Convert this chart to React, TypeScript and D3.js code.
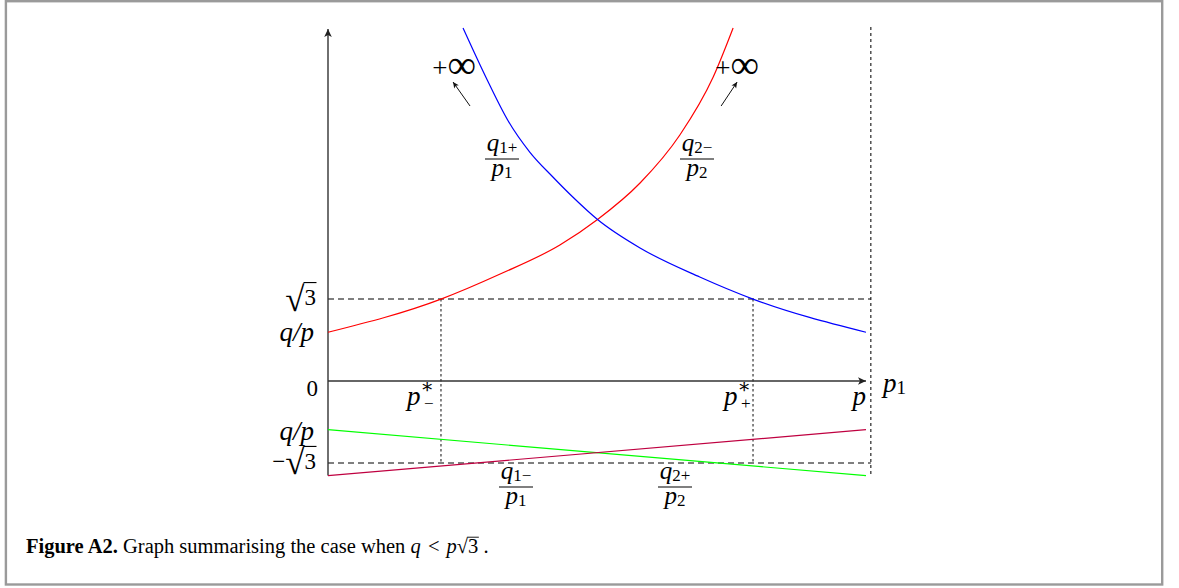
import React, { useLayoutEffect, useRef, useState } from 'react';
import * as d3 from 'd3';

const WIDTH = 1179;
const HEIGHT = 588;

// Abscissa: p1 measured in units of p (0 … p). Ordinate: same units as √3.
const SQRT3 = Math.sqrt(3);
const Q_OVER_P = 1.03;
const LOWER_END = -2;
const Y_TOP = 7.463;
const P_END = 1;
const P_LIMIT_LINE = 1.009;
const P_STAR_MINUS = 0.21;
const P_STAR_PLUS = 0.79;

// q2−/p2 (red): rises from q/p towards +∞
const q2MinusP1 = [0, 0.21, 0.32, 0.431, 0.501, 0.58, 0.654, 0.716, 0.753];
const q2MinusValue = [Q_OVER_P, 1.732, 2.262, 2.875, 3.414, 4.186, 5.201, 6.427, 7.463];

// q1+/p1 (blue): comes down from +∞ to q/p
const q1PlusP1 = [0.251, 0.296, 0.335, 0.375, 0.418, 0.455, 0.501, 0.58, 0.691, 0.79, 1];
const q1PlusValue = [7.463, 6.364, 5.497, 4.841, 4.313, 3.89, 3.414, 2.812, 2.199, 1.732, Q_OVER_P];

// q2+/p2 (green) and q1−/p1 (purple): the two negative branches
const q2PlusP1 = [0, 1];
const q2PlusValue = [-Q_OVER_P, LOWER_END];
const q1MinusP1 = [0, 1];
const q1MinusValue = [LOWER_END, -Q_OVER_P];

const MATH_FONT = "'Liberation Serif', 'DejaVu Serif', serif";
const FS = 23; // upright digits and symbols
const FI = 27; // italic letters
const SUB = 17;

const zip = (a: number[], b: number[]) => a.map((v, i) => [v, b[i]] as [number, number]);

// "√3" / "−√3": radical sign, radicand, and a measured vinculum over the radicand
function SqrtLabel({ x, y, neg = false }: any) {
  const ref = useRef<SVGTextElement>(null);
  const [bar, setBar] = useState<[number, number] | null>(null);
  useLayoutEffect(() => {
    const t = ref.current;
    if (!t) return;
    const n = t.getNumberOfChars();
    setBar([t.getStartPositionOfChar(n - 1).x, t.getEndPositionOfChar(n - 1).x]);
  }, [x, y]);
  const barY = y - 22.5;
  return (
    <g>
      <text ref={ref} x={x} y={y} textAnchor="end" fontFamily={MATH_FONT} fontSize={FS}>
        {neg && <tspan>−</tspan>}
        <tspan fontSize={35} dy={5.5}>√</tspan>
        <tspan dy={-5.5}>3</tspan>
      </text>
      {bar && (
        <line x1={bar[0] - 1} x2={bar[1] + 0.5} y1={barY} y2={barY} stroke="#000" strokeWidth={1.1} />
      )}
    </g>
  );
}

function Fraction({ cx, cy, qSub, pSub }: any) {
  return (
    <g fontFamily={MATH_FONT}>
      <text x={cx} y={cy - 8} textAnchor="middle" fontSize={FS}>
        <tspan fontStyle="italic" fontSize={25}>q</tspan>
        <tspan fontSize={SUB} dy={2}>{qSub}</tspan>
      </text>
      <line x1={cx - 17} x2={cx + 17} y1={cy} y2={cy} stroke="#000" strokeWidth={1.1} />
      <text x={cx} y={cy + 17} textAnchor="middle" fontSize={FS}>
        <tspan fontStyle="italic" fontSize={25}>p</tspan>
        <tspan fontSize={SUB} dy={2}>{pSub}</tspan>
      </text>
    </g>
  );
}

function Caption({ x, y }: any) {
  const ref = useRef<SVGTextElement>(null);
  const [bar, setBar] = useState<[number, number] | null>(null);
  useLayoutEffect(() => {
    const t = ref.current;
    if (!t) return;
    const i = t.getNumberOfChars() - 3; // the radicand "3" before " ."
    setBar([t.getStartPositionOfChar(i).x, t.getEndPositionOfChar(i).x]);
  }, [x, y]);
  const size = 20.5;
  return (
    <g>
      <text ref={ref} x={x} y={y} fontFamily={MATH_FONT} fontSize={size}>
        <tspan fontWeight="bold">Figure A2.</tspan>
        <tspan> Graph summarising the case when </tspan>
        <tspan fontStyle="italic">q</tspan>
        <tspan dx={2}> &lt; </tspan>
        <tspan fontStyle="italic" dx={2}>p</tspan>
        <tspan>√</tspan>
        <tspan>3</tspan>
        <tspan> .</tspan>
      </text>
      {bar && (
        <line x1={bar[0] - 0.5} x2={bar[1] + 0.5} y1={y - size * 0.77} y2={y - size * 0.77}
          stroke="#000" strokeWidth={0.9} />
      )}
    </g>
  );
}

export default function App() {
  const x = d3.scaleLinear().domain([0, P_END]).range([328, 866]);
  const y = d3.scaleLinear().domain([LOWER_END, Y_TOP]).range([475.6, 28]);

  const line = d3
    .line<[number, number]>()
    .x((d) => x(d[0]))
    .y((d) => y(d[1]))
    .curve(d3.curveMonotoneX);

  const series = [
    { pts: zip(q2MinusP1, q2MinusValue), color: '#ff0000' },
    { pts: zip(q1PlusP1, q1PlusValue), color: '#0000ff' },
    { pts: zip(q2PlusP1, q2PlusValue), color: '#00ff00' },
    { pts: zip(q1MinusP1, q1MinusValue), color: '#bf0040' },
  ];

  const x0 = x(0);
  const y0 = y(0);
  const redTop = x(q2MinusP1[q2MinusP1.length - 1]);
  const blueTop = x(q1PlusP1[0]);
  const top = y(Y_TOP);

  return (
    <svg width={WIDTH} height={HEIGHT} style={{ position: 'absolute', left: 0, top: 0, background: '#fff' }}>
      <defs>
        <marker id="axisHead" viewBox="-9 -5 10 10" refX={0} refY={0} markerWidth={10} markerHeight={10}
          markerUnits="userSpaceOnUse" orient="auto">
          <path d="M0,0 L-8,-3.8 L-6,0 L-8,3.8 Z" fill="#222" />
        </marker>
        <marker id="smallHead" viewBox="-7 -4 8 8" refX={0} refY={0} markerWidth={8} markerHeight={8}
          markerUnits="userSpaceOnUse" orient="auto">
          <path d="M0,0 L-6,-2.8 L-4.5,0 L-6,2.8 Z" fill="#111" />
        </marker>
      </defs>

      <rect x={5.9} y={1.2} width={1156.3} height={583.3} fill="none" stroke="#9a9a9a" strokeWidth={2.4} />

      {/* reference levels ±√3 */}
      {[SQRT3, -SQRT3].map((v) => (
        <line key={v} x1={x0} x2={x(P_LIMIT_LINE)} y1={y(v)} y2={y(v)}
          stroke="#555" strokeWidth={1.5} strokeDasharray="6 4" />
      ))}
      {/* crossing abscissae p*− and p*+ */}
      {[P_STAR_MINUS, P_STAR_PLUS].map((v) => (
        <line key={v} x1={x(v)} x2={x(v)} y1={y(SQRT3)} y2={y(-SQRT3)}
          stroke="#222" strokeWidth={1.1} strokeDasharray="2.5 2.5" />
      ))}
      {/* p1 = p asymptote */}
      <line x1={x(P_LIMIT_LINE)} x2={x(P_LIMIT_LINE)} y1={top - 1} y2={y(LOWER_END)}
        stroke="#111" strokeWidth={1.1} strokeDasharray="3 3" />

      {/* axes */}
      <line x1={x0} x2={x0} y1={y(LOWER_END)} y2={y(Y_TOP) + 1} stroke="#333" strokeWidth={1.4}
        markerEnd="url(#axisHead)" />
      <line x1={x0} x2={x(P_END)} y1={y0} y2={y0} stroke="#333" strokeWidth={1.4}
        markerEnd="url(#axisHead)" />

      {series.map((s, i) => (
        <path key={i} d={line(s.pts) || ''} fill="none" stroke={s.color} strokeWidth={1.2} />
      ))}

      {/* ordinate labels */}
      <g fontFamily={MATH_FONT} fontSize={FS}>
        <SqrtLabel x={x0 - 12} y={y(SQRT3) + 6} />
        <text x={x0 - 14} y={y(Q_OVER_P) + 9} textAnchor="end" fontStyle="italic" fontSize={FI}>q/p</text>
        <text x={x0 - 10} y={y0 + 15} textAnchor="end">0</text>
        <text x={x0 - 14} y={y(-Q_OVER_P) + 10} textAnchor="end" fontStyle="italic" fontSize={FI}>q/p</text>
        <SqrtLabel x={x0 - 12} y={y(-SQRT3) + 6} neg />
      </g>

      {/* abscissa labels */}
      <g fontFamily={MATH_FONT} fontSize={FS}>
        <text x={x(P_STAR_MINUS) - 7} y={y0 + 24} textAnchor="end">
          <tspan fontStyle="italic" fontSize={FI}>p</tspan>
          <tspan fontSize={20} dy={-12}>∗</tspan>
          <tspan fontSize={SUB} dx={-10} dy={16}>−</tspan>
        </text>
        <text x={x(P_STAR_PLUS) - 2} y={y0 + 24} textAnchor="end">
          <tspan fontStyle="italic" fontSize={FI}>p</tspan>
          <tspan fontSize={20} dy={-12}>∗</tspan>
          <tspan fontSize={SUB} dx={-10} dy={16}>+</tspan>
        </text>
        <text x={x(P_END)} y={y0 + 24} textAnchor="end" fontStyle="italic" fontSize={FI}>p</text>
        <text x={x(P_END) + 17} y={y0 + 11}>
          <tspan fontStyle="italic" fontSize={FI}>p</tspan>
          <tspan fontSize={19} dy={2}>1</tspan>
        </text>
      </g>

      {/* +∞ annotations */}
      <g fontFamily={MATH_FONT}>
        <text x={blueTop - 9} y={top + 49} textAnchor="middle">
          <tspan fontSize={27}>+</tspan>
          <tspan fontSize={40} dy={1}>∞</tspan>
        </text>
        <line x1={blueTop + 7} y1={top + 78} x2={blueTop - 10} y2={top + 54} stroke="#111" strokeWidth={1}
          markerEnd="url(#smallHead)" />
        <text x={redTop + 4} y={top + 49} textAnchor="middle">
          <tspan fontSize={27}>+</tspan>
          <tspan fontSize={40} dy={1}>∞</tspan>
        </text>
        <line x1={redTop - 12} y1={top + 78} x2={redTop + 4} y2={top + 54} stroke="#111" strokeWidth={1}
          markerEnd="url(#smallHead)" />
      </g>

      {/* branch names */}
      <Fraction cx={502} cy={159} qSub="1+" pSub="1" />
      <Fraction cx={697} cy={159} qSub="2−" pSub="2" />
      <Fraction cx={516} cy={487} qSub="1−" pSub="1" />
      <Fraction cx={675} cy={487} qSub="2+" pSub="2" />

      <Caption x={26} y={553} />
    </svg>
  );
}
